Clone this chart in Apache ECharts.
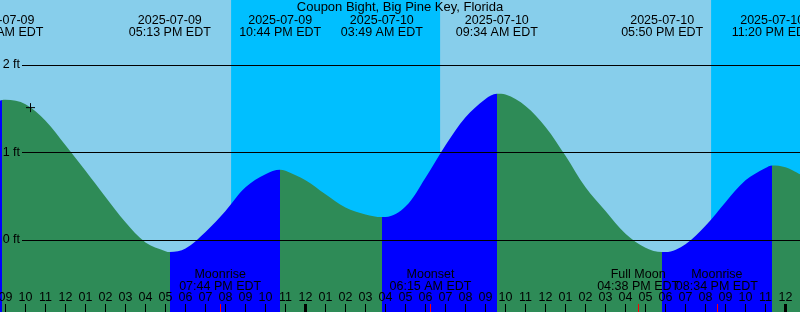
<!DOCTYPE html>
<html><head><meta charset="utf-8">
<script src="https://cdn.jsdelivr.net/npm/echarts@6/dist/echarts.min.js"></script>
<style>html,body{margin:0;padding:0;background:#87CEEB}#c{width:800px;height:312px}</style>
</head><body><div id="c"></div>
<script>
// ---------------- data (hours since 2025-07-09 09:00 EDT) ----------------
const chartTitle = 'Coupon Bight, Big Pine Key, Florida';
const tideTimes = [-0.275, -0.1, 0, 1, 2, 3, 4, 5, 6, 7, 8, 8.217, 9, 10, 11, 12, 13, 13.733, 14, 15, 16, 17, 18, 18.817, 19, 20, 21, 22, 23, 24, 24.567, 25, 26, 27, 28, 29, 30, 31, 32, 32.833, 33, 34, 35, 36, 37, 38, 38.333, 39, 39.725];
const tideHeights = [1.59, 1.60, 1.60, 1.55, 1.36, 1.08, 0.79, 0.49, 0.20, -0.03, -0.13, -0.14, -0.10, 0.09, 0.33, 0.60, 0.75, 0.80, 0.79, 0.68, 0.52, 0.37, 0.29, 0.26, 0.26, 0.38, 0.71, 1.08, 1.40, 1.61, 1.67, 1.66, 1.53, 1.29, 0.96, 0.60, 0.33, 0.07, -0.09, -0.14, -0.14, -0.05, 0.16, 0.43, 0.68, 0.82, 0.85, 0.83, 0.75];
const eventTimes = [-0.15, 8.217, 13.733, 18.817, 24.567, 32.833, 38.333];
const eventKinds = ['high', 'low', 'high', 'low', 'high', 'low', 'high'];
const eventDates = ['2025-07-09', '2025-07-09', '2025-07-09', '2025-07-10', '2025-07-10', '2025-07-10', '2025-07-10'];
const eventClock = ['08:51 AM EDT', '05:13 PM EDT', '10:44 PM EDT', '03:49 AM EDT', '09:34 AM EDT', '05:50 PM EDT', '11:20 PM EDT'];
const nightStarts = [11.28, 35.28];
const nightEnds = [21.73, 39.725];
const moonTimes = [10.733, 21.25, 31.633, 35.567];
const moonNames = ['Moonrise', 'Moonset', 'Full Moon', 'Moonrise'];
const moonClock = ['07:44 PM EDT', '06:15 AM EDT', '04:38 PM EDT', '08:34 PM EDT'];
const hourTicks = [0,1,2,3,4,5,6,7,8,9,10,11,12,13,14,15,16,17,18,19,20,21,22,23,24,25,26,27,28,29,30,31,32,33,34,35,36,37,38,39];
const hourLabels = ['09','10','11','12','01','02','03','04','05','06','07','08','09','10','11','12','01','02','03','04','05','06','07','08','09','10','11','12','01','02','03','04','05','06','07','08','09','10','11','12'];
const midnightTicks = [15, 39];
const heightTicks = [0, 1, 2];
const heightLabels = ['0 ft', '1 ft', '2 ft'];
const nowMarker = [[1.25, 1.51]];

// ---------------- layout / styles ----------------
const FONT = 'Liberation Sans, Arial, sans-serif';
const FS = 12.5;
const xMin = -0.275, xMax = 39.725;
const pxPerFt = 87.5, zeroRow = 239.75, H = 312;
const yMax = zeroRow / pxPerFt, yMin = -(H - zeroRow) / pxPerFt;
const FLOOD = '#0000FF', EBB = '#2E8B57', DAY = '#87CEEB', NIGHT = '#00BFFF';

function nearest(arr, v) { let bi = 0; for (let i = 1; i < arr.length; i++) if (Math.abs(arr[i]-v) < Math.abs(arr[bi]-v)) bi = i; return bi; }

const pieces = [{ lt: eventTimes[0], color: eventKinds[0] === 'high' ? FLOOD : EBB }];
eventTimes.forEach((t, i) => {
  const p = { gte: t, color: eventKinds[i] === 'high' ? EBB : FLOOD };
  if (i < eventTimes.length - 1) p.lt = eventTimes[i + 1];
  pieces.push(p);
});

const labelBase = { inside: true, color: '#000', fontSize: FS, fontFamily: FONT, lineHeight: 12, hideOverlap: false };
const baseX = { type: 'value', min: xMin, max: xMax, z: 10, axisLine: { show: false, onZero: false }, splitLine: { show: false }, axisPointer: { show: false } };

function moonAxis(parity) {
  const vals = moonTimes.filter((_, i) => i % 2 === parity);
  return { ...baseX, position: 'bottom',
    axisTick: { inside: true, length: 8, lineStyle: { color: '#FF0000', width: 1 }, customValues: vals },
    axisLabel: { ...labelBase, margin: 19, customValues: vals, formatter: v => { const i = nearest(moonTimes, v); return moonNames[i] + '\n' + moonClock[i]; } } };
}

const option = {
  animation: false,
  backgroundColor: DAY,
  title: { text: chartTitle, left: 'center', top: 1, padding: 0, z: 10, textStyle: { color: '#000', fontSize: 13, fontWeight: 'normal', fontFamily: FONT, lineHeight: 13 } },
  grid: { left: 0, right: 0, top: 0, bottom: 0, containLabel: false, outerBoundsMode: 'none' },
  xAxis: [
    { ...baseX, position: 'bottom',
      axisTick: { inside: true, length: 8, lineStyle: { color: '#000', width: 1 }, customValues: hourTicks },
      axisLabel: { ...labelBase, margin: 8, customValues: hourTicks, formatter: v => hourLabels[Math.round(v)] } },
    { ...baseX, position: 'top', axisTick: { show: false },
      axisLabel: { ...labelBase, margin: 15, customValues: eventTimes, formatter: v => { const i = nearest(eventTimes, v); return eventDates[i] + '\n' + eventClock[i]; } } },
    moonAxis(0),
    moonAxis(1),
    { ...baseX, position: 'bottom',
      axisTick: { inside: true, length: 8, lineStyle: { color: '#000', width: 3 }, customValues: midnightTicks },
      axisLabel: { show: false } }
  ],
  yAxis: { type: 'value', min: yMin, max: yMax, show: false, splitLine: { show: false } },
  visualMap: { type: 'piecewise', show: false, dimension: 0, seriesIndex: 1, pieces: pieces },
  series: [
    { type: 'line', data: [], z: 1, silent: true,
      markArea: { silent: true, itemStyle: { color: NIGHT, opacity: 1 },
        data: nightStarts.map((s, i) => [{ xAxis: s }, { xAxis: nightEnds[i] }]) } },
    { type: 'line', z: 2, silent: true, smooth: 0.35, symbol: 'none',
      data: tideTimes.map((t, i) => [t, tideHeights[i]]),
      lineStyle: { width: 0, opacity: 0 },
      areaStyle: { opacity: 1, origin: 'start' } },
    { type: 'line', data: [], z: 3, silent: true,
      markLine: { silent: true, symbol: ['none', 'none'],
        lineStyle: { color: '#000', width: 1, type: 'solid' },
        label: { show: true, position: 'start', distance: 2, formatter: '{b}', color: '#000', fontSize: FS, fontFamily: FONT },
        data: heightTicks.map((v, i) => [{ name: heightLabels[i], coord: [xMin + 22 / 20, v] }, { coord: [xMax, v] }]) } },
    { type: 'scatter', z: 4, silent: true, data: nowMarker, symbol: 'path://M0 5H10M5 0V10', symbolSize: 9,
      itemStyle: { color: 'none', borderColor: '#000', borderWidth: 1, opacity: 1 } }
  ]
};
echarts.init(document.getElementById('c')).setOption(option);
</script></body></html>
